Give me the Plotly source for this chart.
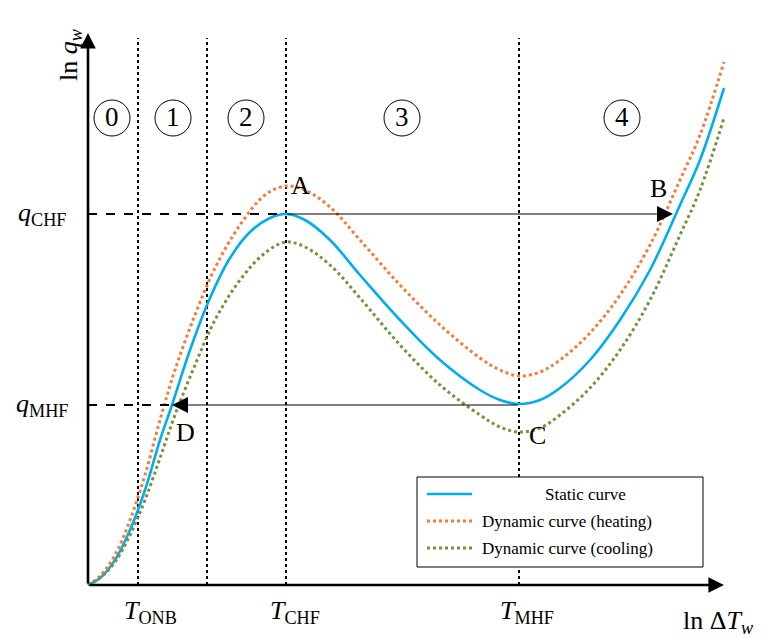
import plotly.graph_objects as go

# Schematic boiling curve, arbitrary units
static_x = [0, 12, 27, 42, 57, 72, 84, 102, 122, 142, 162, 182, 198, 217, 242, 272, 312, 352, 392, 412, 431, 452, 472, 502, 532, 562, 592, 612, 636]
static_y = [0, 7, 25, 55, 95, 145, 180, 235, 287, 327, 353, 367, 371, 365, 345, 310, 265, 225, 195, 185, 181, 185, 197, 225, 265, 315, 380, 425, 497]

heat_x = [0, 12, 27, 42, 57, 72, 87, 107, 127, 152, 177, 198, 217, 242, 272, 312, 352, 392, 412, 431, 452, 472, 502, 532, 562, 592, 612, 636]
heat_y = [0, 9, 30, 65, 110, 165, 215, 270, 317, 360, 390, 399, 395, 378, 345, 300, 260, 227, 215, 209, 213, 225, 252, 290, 340, 405, 450, 523]

cool_x = [0, 12, 27, 42, 57, 72, 87, 107, 127, 152, 177, 198, 217, 242, 272, 312, 352, 392, 412, 431, 452, 472, 502, 532, 562, 592, 612, 636]
cool_y = [0, 7, 23, 50, 85, 127, 170, 220, 265, 305, 332, 343, 338, 320, 287, 240, 200, 170, 158, 153, 157, 170, 197, 235, 285, 350, 395, 467]

series_names = ["Static curve", "Dynamic curve (heating)", "Dynamic curve (cooling)"]

region_bounds = [50, 119, 198, 431]
region_labels = ["0", "1", "2", "3", "4"]
region_x = [24, 85, 158, 314, 534]

q_chf, q_mhf = 371, 180
t_onb, t_chf, t_mhf = 50, 198, 431
x_d = 84

FONT = "Liberation Serif"
CYAN = "#00AEEF"
ORANGE = "#F47C3C"
GREEN = "#76923C"

fig = go.Figure()

styles = [dict(color=CYAN, width=2.6), dict(color=ORANGE, width=3, dash="dot"), dict(color=GREEN, width=3, dash="dot")]
for xs, ys, nm, st in zip([static_x, heat_x, cool_x], [static_y, heat_y, cool_y], series_names, styles):
    fig.add_trace(go.Scatter(x=xs, y=ys, mode="lines", line=dict(shape="spline", **st), name=nm, showlegend=False))

# region separators
for xb in region_bounds:
    fig.add_shape(type="line", x0=xb, x1=xb, y0=0, y1=547, line=dict(color="black", width=2, dash="dot"), layer="below")

# dashed guides to the y axis
fig.add_shape(type="line", x0=0, x1=t_chf, y0=q_chf, y1=q_chf, line=dict(color="black", width=2, dash="dash"))
fig.add_shape(type="line", x0=0, x1=x_d, y0=q_mhf, y1=q_mhf, line=dict(color="black", width=2, dash="dash"))

anns = []
# axes with arrow heads
anns.append(dict(x=636, y=0, ax=0, ay=0, axref="x", ayref="y", xref="x", yref="y", text="", showarrow=True,
                 arrowhead=2, arrowsize=1.2, arrowwidth=2.6, arrowcolor="black"))
anns.append(dict(x=0, y=552, ax=0, ay=0, axref="x", ayref="y", xref="x", yref="y", text="", showarrow=True,
                 arrowhead=2, arrowsize=1.2, arrowwidth=2.6, arrowcolor="black"))
# jump arrows A->B and C->D
anns.append(dict(x=585, y=q_chf, ax=t_chf, ay=q_chf, axref="x", ayref="y", xref="x", yref="y", text="", showarrow=True,
                 arrowhead=2, arrowsize=3.2, arrowwidth=1, arrowcolor="black"))
anns.append(dict(x=x_d, y=q_mhf, ax=t_mhf, ay=q_mhf, axref="x", ayref="y", xref="x", yref="y", text="", showarrow=True,
                 arrowhead=2, arrowsize=3.2, arrowwidth=1, arrowcolor="black"))

big = dict(family=FONT, size=26, color="black")
for txt, x, y in [("A", 212, 400), ("B", 570, 397), ("C", 449, 150), ("D", 97, 153)]:
    anns.append(dict(x=x, y=y, text=txt, showarrow=False, font=big))

# region numbers in circles
for lab, xc in zip(region_labels, region_x):
    fig.add_shape(type="circle", x0=xc - 18, x1=xc + 18, y0=467 - 18, y1=467 + 18, line=dict(color="black", width=1))
    anns.append(dict(x=xc, y=468, text=lab, showarrow=False, font=dict(family=FONT, size=27, color="black")))

# tick-like labels
anns.append(dict(x=-46, y=q_chf, text="<i>q</i><sub>CHF</sub>", showarrow=False, font=big))
anns.append(dict(x=-46, y=q_mhf, text="<i>q</i><sub>MHF</sub>", showarrow=False, font=big))
anns.append(dict(x=t_onb + 12, y=-27, text="<i>T</i><sub>ONB</sub>", showarrow=False, font=big))
anns.append(dict(x=t_chf + 9, y=-27, text="<i>T</i><sub>CHF</sub>", showarrow=False, font=big))
anns.append(dict(x=t_mhf + 8, y=-27, text="<i>T</i><sub>MHF</sub>", showarrow=False, font=big))
anns.append(dict(x=630, y=-37, text="ln Δ<i>T<sub>w</sub></i>", showarrow=False, font=big))
anns.append(dict(x=-18, y=530, text="ln <i>q<sub>w</sub></i>", showarrow=False, font=big, textangle=-90))

# legend drawn by hand to match the boxed legend
fig.add_shape(type="rect", x0=329, x1=615, y0=18, y1=108, line=dict(color="black", width=1), fillcolor="white")
leg_y = [91, 64, 37]
leg_font = dict(family=FONT, size=17, color="black")
for st, nm, ly, i in zip(styles, series_names, leg_y, range(3)):
    fig.add_shape(type="line", x0=339, x1=384, y0=ly, y1=ly, line=st)
    if i == 0:
        anns.append(dict(x=497, y=ly, text=nm, showarrow=False, font=leg_font))
    else:
        anns.append(dict(x=392, y=ly, text=nm, showarrow=False, xanchor="left", font=leg_font))

# body has an 8px margin in the page, so the figure is 8px smaller and its ranges start 8 units later
fig.update_layout(
    width=763, height=631,
    margin=dict(l=0, r=0, t=0, b=0),
    plot_bgcolor="white", paper_bgcolor="white",
    xaxis=dict(range=[-80, 683], visible=False, fixedrange=True),
    yaxis=dict(range=[-54, 577], visible=False, fixedrange=True),
    annotations=anns,
    showlegend=False,
)

fig.write_html("out.html")
